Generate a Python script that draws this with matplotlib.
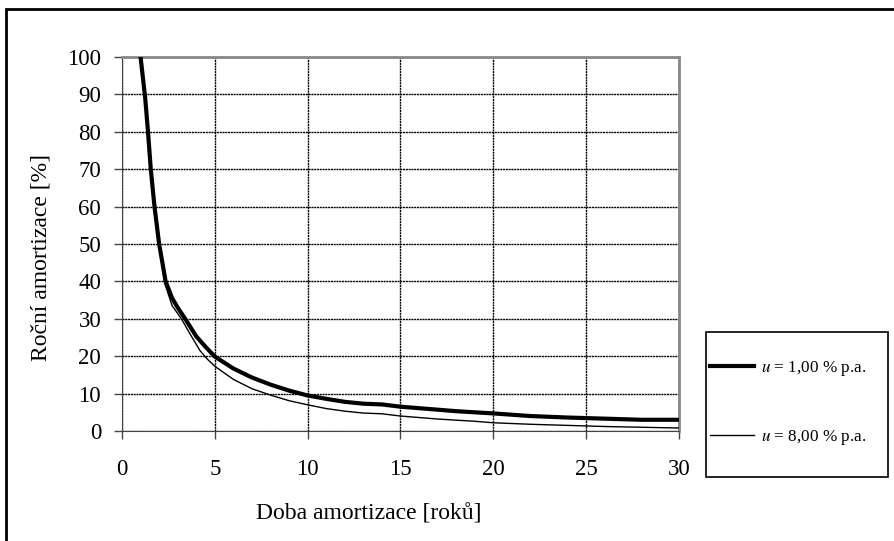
import matplotlib
matplotlib.use("Agg")
import matplotlib.pyplot as plt
from matplotlib.patches import Rectangle

plt.rcParams["font.family"] = ["Liberation Serif", "DejaVu Serif"]
plt.rcParams["mathtext.fontset"] = "stix"

# u = 1,00 % p.a. (thick line)
x_u1 = [1.0, 1.25, 1.4, 1.55, 1.75, 2.0, 2.35, 2.7, 3.0, 3.4, 4.0, 4.5, 5, 6, 7, 8, 9, 10,
        11, 12, 13, 14, 15, 16, 17, 18, 19, 20, 22, 24, 26, 28, 30]
y_u1 = [100, 89, 80, 70, 60, 50, 40, 35.5, 33, 30, 25.3, 22.5, 19.9, 16.7, 14.3, 12.4, 10.8, 9.5,
        8.6, 7.8, 7.3, 7.1, 6.5, 6.1, 5.7, 5.3, 5.0, 4.7, 4.0, 3.6, 3.3, 3.0, 3.0]

# u = 8,00 % p.a. (thin line)
x_u8 = [1.0, 1.25, 1.4, 1.55, 1.75, 2.0, 2.3, 2.7, 3.2, 3.6, 4.2, 4.6, 5, 6, 7, 8, 9, 10,
        11, 12, 13, 14, 15, 16, 17, 18, 19, 20, 22, 24, 26, 28, 30]
y_u8 = [100, 89, 80, 70, 60, 50, 39.5, 33.5, 30, 26.5, 21.5, 19.2, 17.3, 13.8, 11.3, 9.6, 8.1, 7.0,
        6.0, 5.3, 4.8, 4.6, 4.0, 3.6, 3.2, 2.9, 2.6, 2.2, 1.8, 1.5, 1.2, 1.0, 0.8]

labels = ["$u$ = 1,00 % p.a.", "$u$ = 8,00 % p.a."]
x_ticks = [0, 5, 10, 15, 20, 25, 30]
y_ticks = [0, 10, 20, 30, 40, 50, 60, 70, 80, 90, 100]

W, H = 895, 541
fig = plt.figure(figsize=(W / 100, H / 100), dpi=100)
ax = fig.add_axes([122 / W, 1 - 431 / H, 557 / W, 374 / H])

ax.plot(x_u8, y_u8, color="black", lw=1.0, label=labels[1], zorder=3)
ax.plot(x_u1, y_u1, color="black", lw=3.0, label=labels[0], zorder=4)

ax.set_xlim(0, 30)
ax.set_ylim(0, 100)
ax.set_xticks(x_ticks)
ax.set_yticks(y_ticks)
ax.tick_params(axis="both", labelsize=16.5, direction="out", length=6, width=1, color="#444444")
ax.tick_params(axis="x", pad=14)
ax.tick_params(axis="y", pad=9)
ax.grid(True, color="black", lw=1.0, linestyle=(0, (1.5, 0.5)))
ax.set_axisbelow(True)
for side in ["top", "right"]:
    ax.spines[side].set_color("#888888")
    ax.spines[side].set_linewidth(2)
ax.spines["left"].set_color("#444444")
ax.spines["bottom"].set_color("#444444")

ax.set_xlabel("Doba amortizace [roků]", fontsize=17)
ax.set_ylabel("Roční amortizace [%]", fontsize=17)
ax.xaxis.set_label_coords(0.443, -0.195)
ax.yaxis.set_label_coords(-0.126, 0.465)

# legend box
fig.patches.append(Rectangle((706 / W, 1 - 477 / H), 182 / W, 145 / H, transform=fig.transFigure,
                             fill=False, edgecolor="black", lw=1.2))
h1, h2 = ax.get_legend_handles_labels()[0][::-1]
fig.legend([h1, h2], labels, loc="center left", bbox_to_anchor=(710 / W, 1 - 403 / H),
           frameon=False, fontsize=12.3, handlelength=2.6, handletextpad=0.4,
           labelspacing=2.9, borderpad=0, borderaxespad=0)

# outer frame
fig.patches.append(Rectangle((6 / W, -0.1), 1.2, 1.1 - 9.5 / H, transform=fig.transFigure,
                             fill=False, edgecolor="black", lw=2))

fig.savefig("out.png", dpi=100)
